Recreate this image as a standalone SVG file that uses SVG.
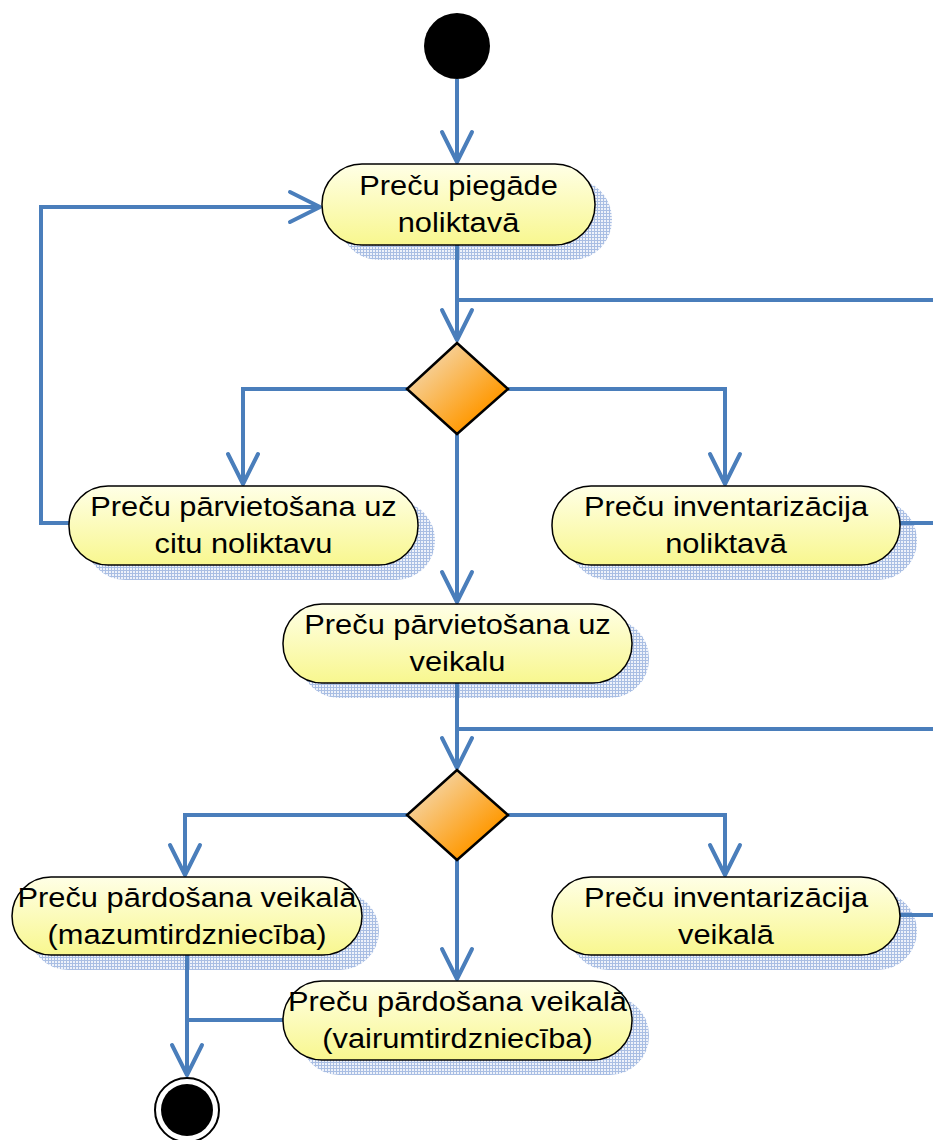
<svg xmlns="http://www.w3.org/2000/svg" width="933" height="1140" viewBox="0 0 933 1140">
  <style>
    .edge { fill: none; stroke: #4a7ebb; stroke-width: 4; }
    .act { fill: url(#actFill); stroke: #000; stroke-width: 1.5; }
    .shadow { fill: url(#hatch); }
    .dec { fill: url(#decFill); stroke: #000; stroke-width: 2.5; stroke-linejoin: miter; }
    .lbl { font-family: "Liberation Sans", Arial, sans-serif; font-size: 28px; fill: #000; text-anchor: middle; }
  </style>
  <defs>
    <linearGradient id="actFill" x1="0" y1="0" x2="0" y2="1">
      <stop offset="0" stop-color="#ffffe6"/>
      <stop offset="1" stop-color="#f8f78f"/>
    </linearGradient>
    <linearGradient id="decFill" x1="0" y1="0" x2="1" y2="1">
      <stop offset="0.15" stop-color="#f5d6a8"/>
      <stop offset="0.75" stop-color="#ff9a05"/>
    </linearGradient>
    <pattern id="hatch" width="3" height="3" patternUnits="userSpaceOnUse">
      <rect width="3" height="3" fill="#a9bee3"/>
      <rect x="1" y="1" width="2" height="2" fill="#eef2fa"/>
    </pattern>
    <marker id="arrow" markerUnits="userSpaceOnUse" markerWidth="40" markerHeight="40" viewBox="-34 -20 40 40" refX="0" refY="0" orient="auto">
      <path d="M-30,-15 L0,0 L-30,15" fill="none" stroke="#4a7ebb" stroke-width="4" stroke-linejoin="round" stroke-linecap="round"/>
    </marker>
  </defs>

  <!-- shadows under action nodes -->
  <g id="shadows">
    <rect class="shadow" x="339" y="179" width="273" height="81" rx="40"/>
    <rect class="shadow" x="86" y="501" width="349" height="79" rx="39"/>
    <rect class="shadow" x="569" y="501" width="348" height="79" rx="39"/>
    <rect class="shadow" x="300" y="619" width="349" height="79" rx="39"/>
    <rect class="shadow" x="29" y="892" width="350" height="78" rx="39"/>
    <rect class="shadow" x="569" y="892" width="348" height="78" rx="39"/>
    <rect class="shadow" x="300" y="996" width="349" height="79" rx="39"/>
  </g>

  <!-- control flow -->
  <g id="connectors">
    <path class="edge" d="M457,79 V162" marker-end="url(#arrow)"/>
    <path class="edge" d="M457,245 V340" marker-end="url(#arrow)"/>
    <path class="edge" d="M933,300 H457"/>
    <path class="edge" d="M407,389 H243 V484" marker-end="url(#arrow)"/>
    <path class="edge" d="M508,389 H725 V484" marker-end="url(#arrow)"/>
    <path class="edge" d="M457,434 V602" marker-end="url(#arrow)"/>
    <path class="edge" d="M69,523 H41 V207 H320" marker-end="url(#arrow)"/>
    <path class="edge" d="M900,523 H933"/>
    <path class="edge" d="M457,683 V768" marker-end="url(#arrow)"/>
    <path class="edge" d="M933,729 H457"/>
    <path class="edge" d="M407,815 H185 V875" marker-end="url(#arrow)"/>
    <path class="edge" d="M508,815 H725 V875" marker-end="url(#arrow)"/>
    <path class="edge" d="M457,860 V979" marker-end="url(#arrow)"/>
    <path class="edge" d="M900,915 H933"/>
    <path class="edge" d="M187,955 V1075" marker-end="url(#arrow)"/>
    <path class="edge" d="M283,1020 H187"/>
  </g>

  <g id="start">
    <circle cx="457" cy="46" r="33" fill="#000"/>
  </g>

  <g id="deliver">
    <rect class="act" x="322" y="164" width="273" height="81" rx="40"/>
    <text class="lbl" transform="matrix(1.1 0 0 1 458.5 0)" x="0" y="195">Preču piegāde</text>
    <text class="lbl" transform="matrix(1.1 0 0 1 458.5 0)" x="0" y="232">noliktavā</text>
  </g>

  <g id="decision1">
    <polygon class="dec" points="457,343 508,389 457,434 407,389"/>
  </g>

  <g id="moveWarehouse">
    <rect class="act" x="69" y="486" width="349" height="79" rx="39"/>
    <text class="lbl" transform="matrix(1.1 0 0 1 243.5 0)" x="0" y="516">Preču pārvietošana uz</text>
    <text class="lbl" transform="matrix(1.1 0 0 1 243.5 0)" x="0" y="553">citu noliktavu</text>
  </g>

  <g id="inventoryWarehouse">
    <rect class="act" x="552" y="486" width="348" height="79" rx="39"/>
    <text class="lbl" transform="matrix(1.1 0 0 1 726 0)" x="0" y="516">Preču inventarizācija</text>
    <text class="lbl" transform="matrix(1.1 0 0 1 726 0)" x="0" y="553">noliktavā</text>
  </g>

  <g id="moveShop">
    <rect class="act" x="283" y="604" width="349" height="79" rx="39"/>
    <text class="lbl" transform="matrix(1.1 0 0 1 457.5 0)" x="0" y="634">Preču pārvietošana uz</text>
    <text class="lbl" transform="matrix(1.1 0 0 1 457.5 0)" x="0" y="671">veikalu</text>
  </g>

  <g id="decision2">
    <polygon class="dec" points="457,770 508,815 457,860 407,815"/>
  </g>

  <g id="retail">
    <rect class="act" x="12" y="877" width="350" height="78" rx="39"/>
    <text class="lbl" transform="matrix(1.1 0 0 1 187 0)" x="0" y="907">Preču pārdošana veikalā</text>
    <text class="lbl" transform="matrix(1.1 0 0 1 187 0)" x="0" y="944">(mazumtirdzniecība)</text>
  </g>

  <g id="inventoryShop">
    <rect class="act" x="552" y="877" width="348" height="78" rx="39"/>
    <text class="lbl" transform="matrix(1.1 0 0 1 726 0)" x="0" y="907">Preču inventarizācija</text>
    <text class="lbl" transform="matrix(1.1 0 0 1 726 0)" x="0" y="944">veikalā</text>
  </g>

  <g id="wholesale">
    <rect class="act" x="283" y="981" width="349" height="79" rx="39"/>
    <text class="lbl" transform="matrix(1.1 0 0 1 457.5 0)" x="0" y="1011">Preču pārdošana veikalā</text>
    <text class="lbl" transform="matrix(1.1 0 0 1 457.5 0)" x="0" y="1048">(vairumtirdzniecība)</text>
  </g>

  <g id="end">
    <circle cx="187" cy="1110" r="32" fill="#fff" stroke="#000" stroke-width="2"/>
    <circle cx="187" cy="1110" r="26" fill="#000"/>
  </g>
</svg>
